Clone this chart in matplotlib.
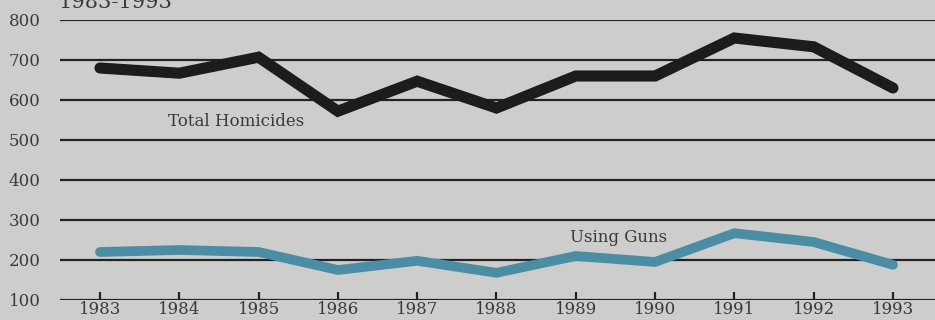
import matplotlib
matplotlib.use("Agg")
import matplotlib.pyplot as plt

years = [1983, 1984, 1985, 1986, 1987, 1988, 1989, 1990, 1991, 1992, 1993]
total_homicides = [680, 667, 707, 572, 647, 580, 660, 660, 755, 733, 630]
using_guns = [220, 225, 220, 175, 198, 168, 210, 195, 267, 245, 188]
y_ticks = [100, 200, 300, 400, 500, 600, 700, 800]

bg = "#cdcdcb"
plt.rcParams['font.family'] = ['DejaVu Serif']

fig = plt.figure(figsize=(9.35, 3.2), dpi=100, facecolor=bg)
ax = fig.add_axes([60/935, 20/320, 875/935, 280/320], facecolor=bg)

for y in y_ticks:
    ax.axhline(y, color="#222222", lw=1.6, zorder=1)

ax.plot(years, total_homicides, color="#1c1c1c", lw=8, solid_capstyle="round",
        solid_joinstyle="miter", zorder=3)
ax.plot(years, using_guns, color="#4a8ea6", lw=7, solid_capstyle="round",
        solid_joinstyle="miter", zorder=3)

ax.set_xlim(1982.496, 1993.53)
ax.set_ylim(100, 800)
ax.set_yticks(y_ticks)
ax.set_yticklabels([str(v) for v in y_ticks])
ax.set_xticks(years)
ax.set_xticklabels([str(y) for y in years])
for s in ax.spines.values():
    s.set_visible(False)
ax.tick_params(axis="y", length=0, pad=14, labelsize=12, labelcolor="#3a3a3a")
ax.tick_params(axis="x", direction="in", length=6, width=1.6, color="#222222",
               pad=1, labelsize=12, labelcolor="#3a3a3a")

ax.text(1983.86, 547, "Total Homicides", fontsize=12, color="#3a3a3a",
        va="center", ha="left", zorder=4)
ax.text(1988.93, 255, "Using Guns", fontsize=12, color="#3a3a3a",
        va="center", ha="left", zorder=4)

fig.text(58/935, 1 - 8/320, "1983-1993", fontsize=15, color="#3a3a3a",
         ha="left", va="baseline")

fig.savefig("out.png", dpi=100, facecolor=bg)
